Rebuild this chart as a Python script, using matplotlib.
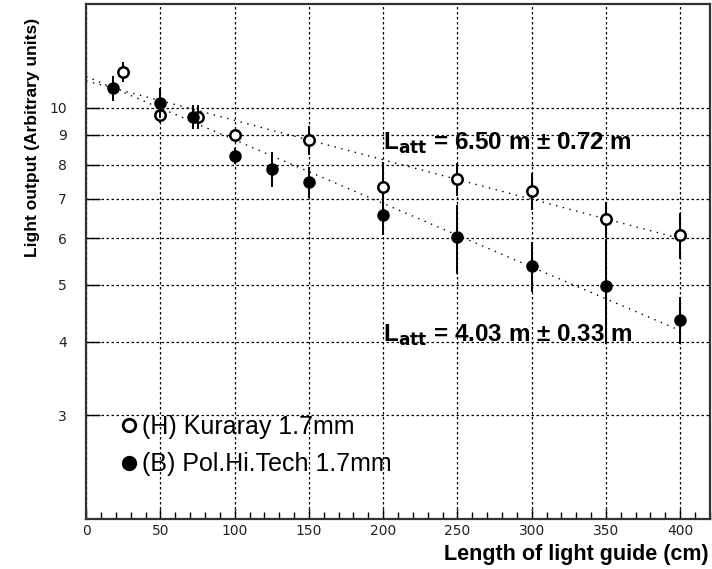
import matplotlib
matplotlib.use("Agg")
import matplotlib.pyplot as plt
from matplotlib.lines import Line2D
from matplotlib.ticker import FixedLocator, NullFormatter, MultipleLocator

plt.rcParams['mathtext.default'] = 'bf'

# Kuraray 1.7mm (open circles)
kur_x = [25, 50, 75, 100, 150, 200, 250, 300, 350, 400]
kur_y = [11.5, 9.7, 9.65, 9.0, 8.82, 7.33, 7.56, 7.21, 6.46, 6.08]
kur_err = [0.46, 0.3, 0.46, 0.2, 0.5, 0.75, 0.49, 0.52, 0.45, 0.55]

# Pol.Hi.Tech 1.7mm (filled circles)
pol_x = [18, 50, 72, 100, 125, 150, 200, 250, 300, 350, 400]
pol_y = [10.8, 10.2, 9.65, 8.28, 7.87, 7.47, 6.56, 6.02, 5.39, 4.97, 4.36]
pol_err = [0.52, 0.6, 0.46, 0.27, 0.54, 0.45, 0.48, 0.8, 0.53, 1.0, 0.4]

# exponential fits, end points (straight on log scale)
fit_x = [0, 400]
kur_fit = [11.1, 5.99]
pol_fit = [11.3, 4.18]

y_ticks = [3, 4, 5, 6, 7, 8, 9, 10]

fig = plt.figure(figsize=(7.12, 5.69), dpi=100)
ax = fig.add_axes([0.121, 0.088, 0.876, 0.905])
ax.set_yscale('log')

ax.plot(fit_x, kur_fit, color='black', lw=1.0, ls=(0, (1, 4)))
ax.plot(fit_x, pol_fit, color='black', lw=1.0, ls=(0, (1, 4)))

ax.errorbar(kur_x, kur_y, yerr=kur_err, fmt='o', ms=7.5, mfc='white', mec='black',
            mew=1.8, ecolor='black', elinewidth=1.4, capsize=0, zorder=3)
ax.errorbar(pol_x, pol_y, yerr=pol_err, fmt='o', ms=8, mfc='black', mec='black',
            ecolor='black', elinewidth=1.4, capsize=0, zorder=4)

ax.set_xlim(0, 420)
ax.set_ylim(2, 15)

ax.xaxis.set_major_locator(MultipleLocator(50))
ax.xaxis.set_minor_locator(MultipleLocator(10))
ax.yaxis.set_major_locator(FixedLocator(y_ticks))
ax.yaxis.set_major_formatter(plt.FixedFormatter([str(t) for t in y_ticks]))
ax.yaxis.set_minor_locator(FixedLocator([]))
ax.yaxis.set_minor_formatter(NullFormatter())

ax.tick_params(axis='x', which='major', direction='in', length=7, width=1, pad=4,
               labelsize=10, top=False)
ax.tick_params(axis='x', which='minor', direction='in', length=5, width=1, top=False)
ax.tick_params(axis='y', which='major', direction='in', length=10, width=1, pad=14,
               labelsize=10, right=False)
for lab in ax.get_xticklabels() + ax.get_yticklabels():
    lab.set_color('#222222')

ax.grid(True, which='major', color='black', lw=0.9, ls=(0, (2, 2)))
for sp in ax.spines.values():
    sp.set_linewidth(1.6)
    sp.set_color('#333333')

ax.text(200, 8.7, "L$_{att}$ = 6.50 m ± 0.72 m", fontsize=17.5, fontweight='bold',
        family='Liberation Sans', va='center', ha='left')
ax.text(200, 4.1, "L$_{att}$ = 4.03 m ± 0.33 m", fontsize=17.5, fontweight='bold',
        family='Liberation Sans', va='center', ha='left')

handles = [
    Line2D([], [], ls='none', marker='o', ms=9, mfc='white', mec='black', mew=2),
    Line2D([], [], ls='none', marker='o', ms=10, mfc='black', mec='black'),
]
ax.legend(handles, ["(H) Kuraray 1.7mm", "(B) Pol.Hi.Tech 1.7mm"], loc='upper left',
          bbox_to_anchor=(0.04, 0.222), frameon=False, handlelength=0.6,
          handletextpad=0.25, labelspacing=0.55, borderaxespad=0,
          prop={'family': 'Liberation Sans', 'size': 18})

fig.text(0.995, 0.026, "Length of light guide (cm)", ha='right', va='center',
         fontsize=15.5, fontweight='bold', family='Liberation Sans')
fig.text(0.046, 0.759, "Light output (Arbitrary units)", ha='center', va='center',
         rotation=90, fontsize=12.5, fontweight='bold', family='Liberation Sans')

fig.savefig("out.png", dpi=100)
